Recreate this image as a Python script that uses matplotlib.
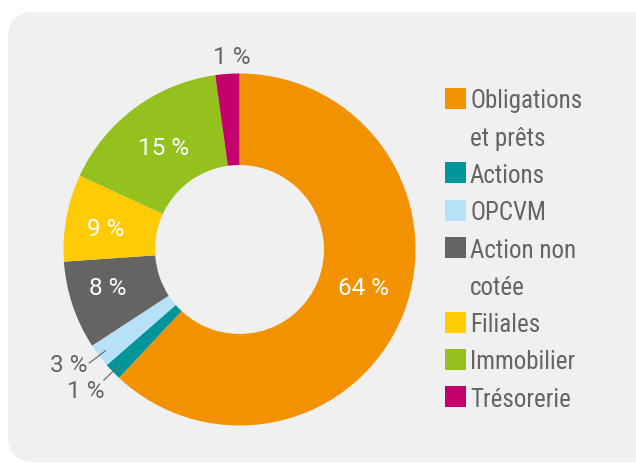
import matplotlib
matplotlib.use("Agg")
import matplotlib.pyplot as plt
from matplotlib import font_manager
from matplotlib.patches import FancyBboxPatch, Rectangle
import numpy as np

categories = ["Obligations\net prêts", "Actions", "OPCVM", "Action non\ncotée",
              "Filiales", "Immobilier", "Trésorerie"]
shares = [62.0, 1.6, 2.2, 8.1, 8.0, 15.9, 2.2]
pct_labels = ["64 %", "1 %", "3 %", "8 %", "9 %", "15 %", "1 %"]

# --- Style ---
colors = ["#f39200", "#00959a", "#b7e1f9", "#646464", "#ffcb05", "#95c11f", "#c3006b"]
text_gray = "#646464"
bg_gray = "#f0f0f0"

available = {f.name for f in font_manager.fontManager.ttflist}
font = "DejaVu Sans"
for fam in ["Roboto Condensed", "Liberation Sans Narrow", "Roboto"]:
    if fam in available:
        font = fam
        break
pct_font = "Roboto" if "Roboto" in available else font
plt.rcParams["font.family"] = [font, "DejaVu Sans"]

W, H = 636, 463
fig = plt.figure(figsize=(W / 100, H / 100), dpi=100)
fig.patch.set_facecolor("white")
ax = fig.add_axes([0, 0, 1, 1])

# rounded grey panel
panel = FancyBboxPatch((8, 1), 660, 450, boxstyle="round,pad=0,rounding_size=26",
                       facecolor=bg_gray, edgecolor="none", zorder=0)
ax.add_patch(panel)

# donut (pixel units, y up)
cx, cy, R = 239.5, H - 249.5, 176
wedges, _ = ax.pie(shares, colors=colors, startangle=90, counterclock=False,
                   center=(cx, cy), radius=R,
                   wedgeprops=dict(width=R * 0.52, linewidth=0))
for w in wedges:
    w.set_zorder(2)

# percentage labels: radial distance and small angle nudge (deg) per slice
label_dist = [0.74, 1.19, 1.17, 0.78, 0.77, 0.72, 1.09]
label_nudge = [4.2, -1.2, -2.9, -2.0, 2.1, 0.5, -1.5]
inside = [True, False, False, True, True, True, False]
leader = [False, True, True, False, False, False, False]
for w, txt, d, nd, ins, ld in zip(wedges, pct_labels, label_dist, label_nudge,
                                  inside, leader):
    mid = (w.theta1 + w.theta2) / 2
    ang = np.deg2rad(mid + nd)
    x = cx + d * R * np.cos(ang)
    y = cy + d * R * np.sin(ang)
    ax.text(x, y, txt, ha="center", va="center", fontsize=17.5,
            family=[pct_font, "DejaVu Sans"],
            color="white" if ins else text_gray, zorder=4)
    if ld:
        a = np.deg2rad(mid)
        r0, r1 = 0.955 * R, 1.07 * R
        ax.plot([cx + r0 * np.cos(a), cx + r1 * np.cos(a)],
                [cy + r0 * np.sin(a), cy + r1 * np.sin(a)],
                color="#707070", lw=0.9, zorder=3, clip_on=False)

# legend, drawn by hand so the swatch sits on the first line
sq, x_sq, x_txt = 21, 445, 470
row_y = 98.3   # centre of first line, pixels from the top
pitch = 37.3
for name, col in zip(categories, colors):
    yc = H - row_y
    ax.add_patch(Rectangle((x_sq, yc - sq / 2), sq, sq, facecolor=col,
                           edgecolor="none", zorder=3))
    for line in name.split("\n"):
        ax.text(x_txt, H - row_y - 10, line, ha="left", va="baseline",
                fontsize=18, color=text_gray, zorder=3)
        row_y += pitch

ax.set_xlim(0, W)
ax.set_ylim(0, H)
ax.set_aspect("auto")
ax.axis("off")

fig.savefig("out.png", dpi=100, facecolor="white")
